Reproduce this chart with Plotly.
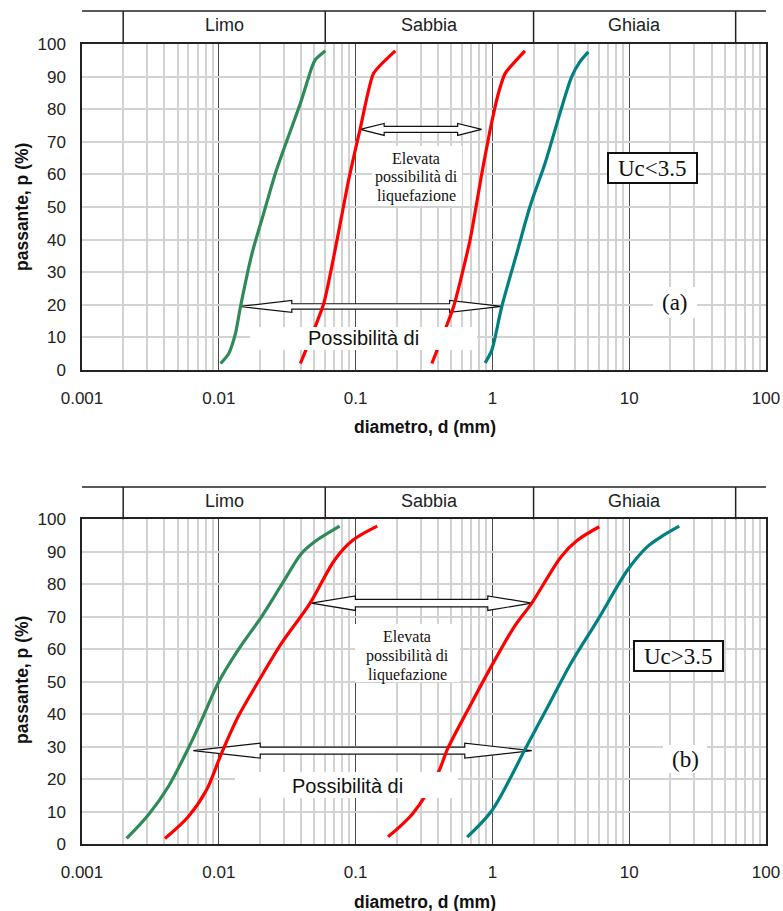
import numpy as np
import plotly.graph_objects as go

# ---------------- data ----------------
# Panel (a)  Uc < 3.5
green_a_d = [0.0103, 0.0118, 0.0132, 0.0144, 0.0175, 0.0213, 0.0259, 0.0316, 0.0395, 0.0481, 0.0506, 0.0601]
green_a_p = [2.0, 5.0, 11.0, 19.4, 35.8, 48.1, 60.3, 70.6, 81.8, 93.1, 95.1, 97.9]
red1_a_d = [0.0395, 0.0585, 0.0732, 0.0889, 0.1082, 0.1353, 0.195]
red1_a_p = [2.0, 20.4, 39.9, 58.3, 74.1, 91.0, 97.9]
red2_a_d = [0.361, 0.520, 0.687, 0.837, 0.962, 1.107, 1.24, 1.73]
red2_a_p = [2.0, 19.4, 39.9, 60.3, 73.6, 84.9, 91.0, 97.9]
teal_a_d = [0.885, 0.99, 1.17, 1.51, 1.88, 2.43, 3.12, 3.80, 4.37, 5.03]
teal_a_p = [2.2, 6.1, 19.4, 35.9, 50.1, 63.5, 78.8, 90.0, 94.6, 97.6]

# Panel (b)  Uc > 3.5
green_b_d = [0.00212, 0.00305, 0.00427, 0.00598, 0.00748, 0.0100, 0.01386, 0.0205, 0.0287, 0.0402, 0.0502, 0.0764]
green_b_p = [1.8, 9.0, 17.7, 29.5, 38.2, 50.0, 59.8, 70.0, 79.8, 89.5, 93.1, 97.9]
red1_b_d = [0.00404, 0.00598, 0.00813, 0.01047, 0.01386, 0.0194, 0.0287, 0.0465, 0.0703, 0.0958, 0.144]
red1_b_p = [1.8, 8.5, 16.7, 28.0, 39.3, 50.0, 61.8, 74.2, 87.5, 93.6, 97.9]
red2_b_d = [0.1726, 0.262, 0.399, 0.472, 0.661, 0.977, 1.448, 1.94, 3.18, 4.20, 6.04]
red2_b_p = [2.3, 9.5, 21.8, 29.5, 41.3, 54.6, 67.0, 74.2, 88.5, 93.6, 97.7]
teal_b_d = [0.654, 0.977, 1.368, 1.71, 2.54, 3.75, 5.88, 9.73, 13.6, 18.0, 23.2]
teal_b_p = [2.2, 10.0, 20.8, 28.8, 42.3, 55.7, 69.0, 84.4, 91.6, 95.2, 97.9]

# double arrows: (d_left, d_right, p)
arrow_a_upper = (0.108, 0.834, 73.8)
arrow_a_lower = (0.01424, 1.167, 19.5)
arrow_b_upper = (0.0475, 1.94, 74.2)
arrow_b_lower = (0.0065, 1.94, 28.8)

# grain-size classes
class_bounds = [0.002, 0.06, 2, 60]
class_names = ["Limo", "Sabbia", "Ghiaia"]

x_tickvals = [0.001, 0.01, 0.1, 1, 10, 100]
x_ticktext = ["0.001", "0.01", "0.1", "1", "10", "100"]
y_tickvals = list(range(0, 101, 10))

# ---------------- styling ----------------
GREEN = "#2e8b57"
RED = "#ff0000"
TEAL = "#008080"
SANS = "Liberation Sans, Arial, sans-serif"
SERIF = "Liberation Serif, Times New Roman, serif"

W, H = 783, 911
XL, XR = 82.0, 766.0
PANEL = {
    "a": dict(top=44.0, bot=370.0, xa="x", ya="y"),
    "b": dict(top=519.3, bot=844.3, xa="x2", ya="y2"),
}
PX_DEC = (XR - XL) / 5.0


def ppu(k):
    return (PANEL[k]["bot"] - PANEL[k]["top"]) / 100.0


def xdom(X):
    return (X - XL) / (XR - XL)


def ydom(k, Y):
    return (PANEL[k]["bot"] - Y) / (PANEL[k]["bot"] - PANEL[k]["top"])


def logfrac(d):
    return (np.log10(d) + 3.0) / 5.0


fig = go.Figure()


def arrow(k, spec, head_px, hh_px, sh_px):
    dl, dr, p = spec
    ll, lr = np.log10(dl), np.log10(dr)
    h = head_px / PX_DEC
    Hh = hh_px / ppu(k)
    S = sh_px / ppu(k)
    xs = [ll, ll + h, ll + h, lr - h, lr - h, lr, lr - h, lr - h, ll + h, ll + h, ll]
    ys = [p, p + Hh, p + S, p + S, p + Hh, p, p - Hh, p - S, p - S, p - Hh, p]
    fig.add_trace(go.Scatter(
        x=list(10 ** np.array(xs)), y=ys, mode="lines", fill="toself",
        fillcolor="white", line=dict(color="#111", width=1.2),
        hoverinfo="skip", showlegend=False,
        xaxis=PANEL[k]["xa"], yaxis=PANEL[k]["ya"]))


arrow("a", arrow_a_upper, 24, 6.0, 3.0)
arrow("a", arrow_a_lower, 52, 6.0, 2.7)
arrow("b", arrow_b_upper, 44, 7.3, 3.7)
arrow("b", arrow_b_lower, 67, 7.5, 3.5)


def curve(k, d, p, color, smooth):
    fig.add_trace(go.Scatter(
        x=d, y=p, mode="lines",
        line=dict(color=color, width=3.2, shape="spline", smoothing=smooth),
        hoverinfo="skip", showlegend=False,
        xaxis=PANEL[k]["xa"], yaxis=PANEL[k]["ya"]))


curve("a", green_a_d, green_a_p, GREEN, 0.7)
curve("a", red1_a_d, red1_a_p, RED, 0.5)
curve("a", red2_a_d, red2_a_p, RED, 0.5)
curve("a", teal_a_d, teal_a_p, TEAL, 0.8)
curve("b", green_b_d, green_b_p, GREEN, 0.9)
curve("b", red1_b_d, red1_b_p, RED, 0.9)
curve("b", red2_b_d, red2_b_p, RED, 0.9)
curve("b", teal_b_d, teal_b_p, TEAL, 0.9)

shapes = []
annotations = []

minor_vals = [m * 10.0 ** e for e in range(-3, 2) for m in range(2, 10)]


def axis_x(anchor):
    return dict(
        type="log", range=[-3, 2], domain=[XL / W, XR / W], anchor=anchor,
        automargin=False,
        tickmode="array", tickvals=x_tickvals, ticktext=x_ticktext,
        tickfont=dict(family=SANS, size=17, color="#222"),
        ticks="outside", ticklen=12, tickcolor="rgba(0,0,0,0)",
        showgrid=True, gridcolor="#4a4a4a", gridwidth=1,
        minor=dict(tickmode="array", tickvals=minor_vals, showgrid=True,
                   gridcolor="#d2d2d2", gridwidth=1.5, ticks=""),
        showline=True, mirror=True, linecolor="#222", linewidth=1.5,
        zeroline=False, fixedrange=True,
    )


def axis_y(k, anchor):
    top = PANEL[k]["top"]
    bot = PANEL[k]["bot"]
    return dict(
        range=[0, 100], domain=[1 - bot / H, 1 - top / H], anchor=anchor,
        automargin=False,
        tickmode="array", tickvals=y_tickvals,
        tickfont=dict(family=SANS, size=17, color="#222"),
        ticks="outside", ticklen=11, tickcolor="rgba(0,0,0,0)",
        showgrid=True, gridcolor="#d2d2d2", gridwidth=1.5,
        showline=True, mirror=True, linecolor="#222", linewidth=1.5,
        zeroline=False, fixedrange=True,
    )


# headers, boxes and texts for both panels
HEADER_TOP = {"a": 11.0, "b": 487.0}
for k in ("a", "b"):
    xr = PANEL[k]["xa"] + " domain"
    yr = PANEL[k]["ya"] + " domain"
    ht = ydom(k, HEADER_TOP[k])
    shapes.append(dict(type="line", xref=xr, yref=yr, x0=0, x1=1, y0=ht, y1=ht,
                       line=dict(color="#222", width=1.5), layer="above"))
    for b in class_bounds:
        f = logfrac(b)
        shapes.append(dict(type="line", xref=xr, yref=yr, x0=f, x1=f, y0=1, y1=ht,
                           line=dict(color="#222", width=1.5), layer="above"))
    for i, name in enumerate(class_names):
        fc = (logfrac(class_bounds[i]) + logfrac(class_bounds[i + 1])) / 2
        annotations.append(dict(xref=xr, yref=yr, x=fc, y=(1 + ht) / 2 + 0.008,
                                text=name, showarrow=False,
                                font=dict(family=SANS, size=18, color="#222"),
                                xanchor="center", yanchor="middle"))


def white_box(k, X0, X1, Y0, Y1, border=False):
    shapes.append(dict(
        type="rect", xref=PANEL[k]["xa"] + " domain", yref=PANEL[k]["ya"] + " domain",
        x0=xdom(X0), x1=xdom(X1), y0=ydom(k, Y1), y1=ydom(k, Y0),
        fillcolor="white",
        line=dict(color="#111" if border else "rgba(0,0,0,0)", width=2 if border else 0),
        layer="above"))


def text(k, X, Y, s, font, size):
    annotations.append(dict(
        xref=PANEL[k]["xa"] + " domain", yref=PANEL[k]["ya"] + " domain",
        x=xdom(X), y=ydom(k, Y), text=s, showarrow=False,
        font=dict(family=font, size=size, color="#111"),
        xanchor="center", yanchor="middle"))


# panel (a)
white_box("a", 372, 462, 146, 206)
for Y, s in zip([159, 177.5, 196], ["Elevata", "possibilità di", "liquefazione"]):
    text("a", 416, Y, s, SERIF, 16)
white_box("a", 250, 477, 327, 350)
text("a", 363, 338.5, "Possibilità di", SANS, 20)
white_box("a", 653, 697, 287, 318)
text("a", 675, 302.5, "(a)", SERIF, 23)
white_box("a", 608, 697, 153, 183, border=True)
text("a", 652.5, 168.5, "Uc&lt;3.5", SERIF, 23)

# panel (b)
white_box("b", 355, 460, 624, 682)
for Y, s in zip([636.7, 655.8, 674.5], ["Elevata", "possibilità di", "liquefazione"]):
    text("b", 407, Y, s, SERIF, 16)
white_box("b", 235, 458, 772, 798)
text("b", 347.5, 786, "Possibilità di", SANS, 20)
white_box("b", 663, 707, 745, 773)
text("b", 685, 759.5, "(b)", SERIF, 23)
white_box("b", 634, 723, 641, 671, border=True)
text("b", 678.5, 656.5, "Uc&gt;3.5", SERIF, 23)

# axis titles
for ycen_x, ycen_y in ((427, 207), (902, 680)):
    annotations.append(dict(xref="paper", yref="paper", x=425 / W, y=1 - ycen_x / H,
                            text="<b>diametro, d (mm)</b>", showarrow=False,
                            font=dict(family=SANS, size=17.5, color="#111"),
                            xanchor="center", yanchor="middle"))
    annotations.append(dict(xref="paper", yref="paper", x=22 / W, y=1 - ycen_y / H,
                            text="<b>passante, p (%)</b>", showarrow=False, textangle=-90,
                            font=dict(family=SANS, size=17.5, color="#111"),
                            xanchor="center", yanchor="middle"))

fig.update_layout(
    width=W, height=H, autosize=False,
    margin=dict(l=0, r=0, t=0, b=0),
    paper_bgcolor="white", plot_bgcolor="white",
    showlegend=False,
    xaxis=axis_x("y"),
    yaxis=axis_y("a", "x"),
    xaxis2=axis_x("y2"),
    yaxis2=axis_y("b", "x2"),
    shapes=shapes,
    annotations=annotations,
)

fig.write_html("out.html")
